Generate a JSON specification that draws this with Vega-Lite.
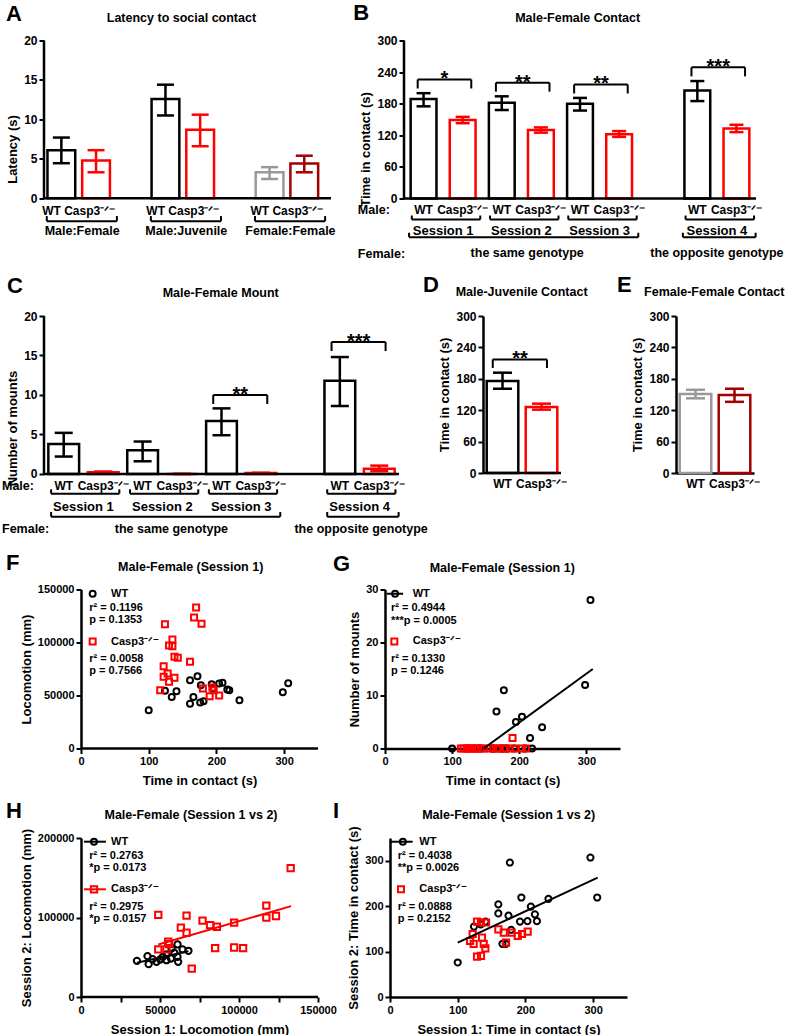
{
"$schema": "https://vega.github.io/schema/vega-lite/v6.json",
"padding": {"left": 1, "top": 1.5, "right": 0, "bottom": 0},
"background": "white",
"config": {
 "font": "Liberation Sans",
 "view": {"stroke": null},
 "axis": {"grid": false, "labelFont": "Liberation Sans", "labelFontWeight": "bold", "labelFontSize": 11, "labelColor": "#000000", "titleFont": "Liberation Sans", "titleFontWeight": "bold", "titleFontSize": 13, "titleColor": "#000000", "domainColor": "#000000", "domainWidth": 2.5, "tickColor": "#000000", "tickWidth": 2, "tickSize": 5, "labelPadding": 2, "labelFlush": false, "labelOverlap": false, "titlePadding": 4},
 "text": {"font": "Liberation Sans", "fontWeight": "bold", "color": "#000000"},
 "rule": {"color": "#000000"}
},
"datasets": {
 "one": [{}],
 "A_bars": [
  {"pair":"Male:Female","bar":"MF WT","group":"WT male","mean":6.1,"lower":4.45,"upper":7.7},
  {"pair":"Male:Female","bar":"MF KO","group":"Casp3 male","mean":4.8,"lower":3.3,"upper":6.1},
  {"pair":"Male:Juvenile","bar":"MJ WT","group":"WT male","mean":12.6,"lower":10.5,"upper":14.4},
  {"pair":"Male:Juvenile","bar":"MJ KO","group":"Casp3 male","mean":8.7,"lower":6.6,"upper":10.6},
  {"pair":"Female:Female","bar":"FF WT","group":"WT female","mean":3.3,"lower":2.45,"upper":3.95},
  {"pair":"Female:Female","bar":"FF KO","group":"Casp3 female","mean":4.4,"lower":3.3,"upper":5.4}
 ],
 "A_pairs": [
  {"pair":"Male:Female","wt":"MF WT","ko":"MF KO"},
  {"pair":"Male:Juvenile","wt":"MJ WT","ko":"MJ KO"},
  {"pair":"Female:Female","wt":"FF WT","ko":"FF KO"}
 ],
 "B_bars": [
  {"session":"Session 1","bar":"S1 WT","genotype":"WT","group":"WT male","mean":189,"lower":175,"upper":200},
  {"session":"Session 1","bar":"S1 KO","genotype":"Casp3\u207b\u141f\u207b","group":"Casp3 male","mean":149,"lower":143,"upper":155},
  {"session":"Session 2","bar":"S2 WT","genotype":"WT","group":"WT male","mean":182,"lower":168,"upper":194},
  {"session":"Session 2","bar":"S2 KO","genotype":"Casp3\u207b\u141f\u207b","group":"Casp3 male","mean":130,"lower":125,"upper":135},
  {"session":"Session 3","bar":"S3 WT","genotype":"WT","group":"WT male","mean":180,"lower":167,"upper":191},
  {"session":"Session 3","bar":"S3 KO","genotype":"Casp3\u207b\u141f\u207b","group":"Casp3 male","mean":122,"lower":117,"upper":128},
  {"session":"Session 4","bar":"S4 WT","genotype":"WT","group":"WT male","mean":205,"lower":185,"upper":223},
  {"session":"Session 4","bar":"S4 KO","genotype":"Casp3\u207b\u141f\u207b","group":"Casp3 male","mean":133,"lower":126,"upper":140}
 ],
 "C_bars": [
  {"session":"Session 1","bar":"S1 WT","genotype":"WT","group":"WT male","mean":3.8,"lower":2.2,"upper":5.2},
  {"session":"Session 1","bar":"S1 KO","genotype":"Casp3\u207b\u141f\u207b","group":"Casp3 male","mean":0.2,"lower":0.1,"upper":0.3},
  {"session":"Session 2","bar":"S2 WT","genotype":"WT","group":"WT male","mean":3.0,"lower":1.6,"upper":4.1},
  {"session":"Session 2","bar":"S2 KO","genotype":"Casp3\u207b\u141f\u207b","group":"Casp3 male","mean":0,"lower":0,"upper":0},
  {"session":"Session 3","bar":"S3 WT","genotype":"WT","group":"WT male","mean":6.7,"lower":4.9,"upper":8.3},
  {"session":"Session 3","bar":"S3 KO","genotype":"Casp3\u207b\u141f\u207b","group":"Casp3 male","mean":0.1,"lower":0.05,"upper":0.15},
  {"session":"Session 4","bar":"S4 WT","genotype":"WT","group":"WT male","mean":11.8,"lower":8.6,"upper":14.8},
  {"session":"Session 4","bar":"S4 KO","genotype":"Casp3\u207b\u141f\u207b","group":"Casp3 male","mean":0.65,"lower":0.35,"upper":1.05}
 ],
 "sessions": [
  {"session":"Session 1","wt":"S1 WT","ko":"S1 KO"},
  {"session":"Session 2","wt":"S2 WT","ko":"S2 KO"},
  {"session":"Session 3","wt":"S3 WT","ko":"S3 KO"},
  {"session":"Session 4","wt":"S4 WT","ko":"S4 KO"}
 ],
 "spans": [
  {"span":"the same genotype","from":"S1 WT","to":"S3 KO"},
  {"span":"the opposite genotype","from":"S4 WT","to":"S4 KO"}
 ],
 "B_sig": [
  {"wt":"S1 WT","ko":"S1 KO","sig":"*","bracket":226},
  {"wt":"S2 WT","ko":"S2 KO","sig":"**","bracket":220},
  {"wt":"S3 WT","ko":"S3 KO","sig":"**","bracket":216.5},
  {"wt":"S4 WT","ko":"S4 KO","sig":"***","bracket":249}
 ],
 "C_sig": [
  {"wt":"S3 WT","ko":"S3 KO","sig":"**","bracket":10},
  {"wt":"S4 WT","ko":"S4 KO","sig":"***","bracket":16.7}
 ],
 "D_bars": [
  {"genotype":"WT","group":"WT male","mean":176,"lower":161,"upper":191.7},
  {"genotype":"Casp3\u207b\u141f\u207b","group":"Casp3 male","mean":126,"lower":121,"upper":132.5}
 ],
 "E_bars": [
  {"genotype":"WT","group":"WT female","mean":151,"lower":142.7,"upper":159},
  {"genotype":"Casp3\u207b\u141f\u207b","group":"Casp3 female","mean":149,"lower":136,"upper":161}
 ],
 "F_pts": [
  {"group":"WT male","contact":100,"locomotion":36000},{"group":"WT male","contact":124,"locomotion":54400},{"group":"WT male","contact":134,"locomotion":48700},{"group":"WT male","contact":141,"locomotion":54000},{"group":"WT male","contact":161,"locomotion":64500},{"group":"WT male","contact":161,"locomotion":42100},{"group":"WT male","contact":166,"locomotion":48700},{"group":"WT male","contact":172,"locomotion":68200},{"group":"WT male","contact":177,"locomotion":59700},{"group":"WT male","contact":176,"locomotion":43400},{"group":"WT male","contact":181,"locomotion":44600},{"group":"WT male","contact":193,"locomotion":60700},{"group":"WT male","contact":195,"locomotion":56600},{"group":"WT male","contact":204,"locomotion":61300},{"group":"WT male","contact":209,"locomotion":62000},{"group":"WT male","contact":216,"locomotion":55700},{"group":"WT male","contact":219,"locomotion":55000},{"group":"WT male","contact":234,"locomotion":45600},{"group":"WT male","contact":298,"locomotion":53100},{"group":"WT male","contact":306,"locomotion":61600},
  {"group":"Casp3 male","contact":170,"locomotion":133000},{"group":"Casp3 male","contact":167,"locomotion":123600},{"group":"Casp3 male","contact":178,"locomotion":117600},{"group":"Casp3 male","contact":124,"locomotion":117300},{"group":"Casp3 male","contact":135,"locomotion":102800},{"group":"Casp3 male","contact":130,"locomotion":97200},{"group":"Casp3 male","contact":135,"locomotion":96500},{"group":"Casp3 male","contact":138,"locomotion":86500},{"group":"Casp3 male","contact":143,"locomotion":85500},{"group":"Casp3 male","contact":161,"locomotion":81800},{"group":"Casp3 male","contact":122,"locomotion":77700},{"group":"Casp3 male","contact":128,"locomotion":70800},{"group":"Casp3 male","contact":122,"locomotion":67600},{"group":"Casp3 male","contact":138,"locomotion":66700},{"group":"Casp3 male","contact":130,"locomotion":62900},{"group":"Casp3 male","contact":117,"locomotion":55000},{"group":"Casp3 male","contact":180,"locomotion":56600},{"group":"Casp3 male","contact":194,"locomotion":57500},{"group":"Casp3 male","contact":190,"locomotion":49400},{"group":"Casp3 male","contact":204,"locomotion":50000},{"group":"Casp3 male","contact":196,"locomotion":55000}
 ],
 "G_pts": [
  {"group":"WT male","contact":100,"mounts":0},{"group":"WT male","contact":124,"mounts":0},{"group":"WT male","contact":134,"mounts":0},{"group":"WT male","contact":141,"mounts":0},{"group":"WT male","contact":161,"mounts":0},{"group":"WT male","contact":161,"mounts":0},{"group":"WT male","contact":166,"mounts":7},{"group":"WT male","contact":172,"mounts":0},{"group":"WT male","contact":177,"mounts":11},{"group":"WT male","contact":176,"mounts":0},{"group":"WT male","contact":181,"mounts":0},{"group":"WT male","contact":193,"mounts":0},{"group":"WT male","contact":195,"mounts":5},{"group":"WT male","contact":204,"mounts":6},{"group":"WT male","contact":209,"mounts":0},{"group":"WT male","contact":216,"mounts":2},{"group":"WT male","contact":219,"mounts":0},{"group":"WT male","contact":234,"mounts":4},{"group":"WT male","contact":298,"mounts":12},{"group":"WT male","contact":306,"mounts":28},
  {"group":"Casp3 male","contact":170,"mounts":0},{"group":"Casp3 male","contact":167,"mounts":0},{"group":"Casp3 male","contact":178,"mounts":0},{"group":"Casp3 male","contact":124,"mounts":0},{"group":"Casp3 male","contact":135,"mounts":0},{"group":"Casp3 male","contact":130,"mounts":0},{"group":"Casp3 male","contact":138,"mounts":0},{"group":"Casp3 male","contact":143,"mounts":0},{"group":"Casp3 male","contact":161,"mounts":0},{"group":"Casp3 male","contact":122,"mounts":0},{"group":"Casp3 male","contact":128,"mounts":0},{"group":"Casp3 male","contact":117,"mounts":0},{"group":"Casp3 male","contact":113,"mounts":0},{"group":"Casp3 male","contact":147,"mounts":0},{"group":"Casp3 male","contact":156,"mounts":0},{"group":"Casp3 male","contact":180,"mounts":0},{"group":"Casp3 male","contact":194,"mounts":0},{"group":"Casp3 male","contact":190,"mounts":2},{"group":"Casp3 male","contact":204,"mounts":0},{"group":"Casp3 male","contact":210,"mounts":0},{"group":"Casp3 male","contact":186,"mounts":0}
 ],
 "G_fit": [
  {"group":"WT male","contact":147,"mounts":0},{"group":"WT male","contact":309.5,"mounts":15}
 ],
 "H_pts": [
  {"group":"WT male","loco1":35400,"loco2":45500},{"group":"WT male","loco1":42800,"loco2":41300},{"group":"WT male","loco1":42100,"loco2":51400},{"group":"WT male","loco1":45300,"loco2":47600},{"group":"WT male","loco1":47800,"loco2":44200},{"group":"WT male","loco1":50100,"loco2":47200},{"group":"WT male","loco1":51800,"loco2":50500},{"group":"WT male","loco1":54100,"loco2":46300},{"group":"WT male","loco1":54100,"loco2":53500},{"group":"WT male","loco1":56900,"loco2":48400},{"group":"WT male","loco1":57300,"loco2":61000},{"group":"WT male","loco1":59000,"loco2":55600},{"group":"WT male","loco1":61100,"loco2":50500},{"group":"WT male","loco1":61100,"loco2":66100},{"group":"WT male","loco1":61500,"loco2":44200},{"group":"WT male","loco1":64300,"loco2":59800},{"group":"WT male","loco1":68000,"loco2":58100},
  {"group":"Casp3 male","loco1":132700,"loco2":162100},{"group":"Casp3 male","loco1":117300,"loco2":114900},{"group":"Casp3 male","loco1":117300,"loco2":99800},{"group":"Casp3 male","loco1":123400,"loco2":101900},{"group":"Casp3 male","loco1":96900,"loco2":93500},{"group":"Casp3 male","loco1":76900,"loco2":96000},{"group":"Casp3 male","loco1":81700,"loco2":90500},{"group":"Casp3 male","loco1":86000,"loco2":88400},{"group":"Casp3 male","loco1":66800,"loco2":102300},{"group":"Casp3 male","loco1":48900,"loco2":103200},{"group":"Casp3 male","loco1":63200,"loco2":87200},{"group":"Casp3 male","loco1":66800,"loco2":80800},{"group":"Casp3 male","loco1":84900,"loco2":61500},{"group":"Casp3 male","loco1":96900,"loco2":62300},{"group":"Casp3 male","loco1":102600,"loco2":61500},{"group":"Casp3 male","loco1":70100,"loco2":35800},{"group":"Casp3 male","loco1":55200,"loco2":69500},{"group":"Casp3 male","loco1":48900,"loco2":59800},{"group":"Casp3 male","loco1":54100,"loco2":59800},{"group":"Casp3 male","loco1":55800,"loco2":66500}
 ],
 "H_fit": [
  {"group":"WT male","loco1":35400,"loco2":43000},{"group":"WT male","loco1":68000,"loco2":57700},
  {"group":"Casp3 male","loco1":48900,"loco2":66000},{"group":"Casp3 male","loco1":133000,"loco2":114300}
 ],
 "I_pts": [
  {"group":"WT male","contact1":100,"contact2":76},{"group":"WT male","contact1":124,"contact2":155},{"group":"WT male","contact1":134,"contact2":160},{"group":"WT male","contact1":141,"contact2":166},{"group":"WT male","contact1":160,"contact2":204},{"group":"WT male","contact1":160,"contact2":184},{"group":"WT male","contact1":166,"contact2":117},{"group":"WT male","contact1":171,"contact2":117},{"group":"WT male","contact1":177,"contact2":296},{"group":"WT male","contact1":175,"contact2":179},{"group":"WT male","contact1":179,"contact2":148},{"group":"WT male","contact1":192,"contact2":166},{"group":"WT male","contact1":194,"contact2":219},{"group":"WT male","contact1":203,"contact2":167},{"group":"WT male","contact1":208,"contact2":199},{"group":"WT male","contact1":214,"contact2":182},{"group":"WT male","contact1":217,"contact2":167},{"group":"WT male","contact1":234,"contact2":216},{"group":"WT male","contact1":296,"contact2":307},{"group":"WT male","contact1":306,"contact2":219},
  {"group":"Casp3 male","contact1":128.5,"contact2":166},{"group":"Casp3 male","contact1":141.8,"contact2":164},{"group":"Casp3 male","contact1":134.4,"contact2":164},{"group":"Casp3 male","contact1":160,"contact2":149},{"group":"Casp3 male","contact1":168,"contact2":141.6},{"group":"Casp3 male","contact1":179.7,"contact2":141.6},{"group":"Casp3 male","contact1":188.6,"contact2":134.3},{"group":"Casp3 male","contact1":195,"contact2":138.7},{"group":"Casp3 male","contact1":203.3,"contact2":143.8},{"group":"Casp3 male","contact1":122.1,"contact2":138.7},{"group":"Casp3 male","contact1":118.2,"contact2":123.3},{"group":"Casp3 male","contact1":123.6,"contact2":116.8},{"group":"Casp3 male","contact1":135.9,"contact2":130.7},{"group":"Casp3 male","contact1":138.4,"contact2":116.8},{"group":"Casp3 male","contact1":140.8,"contact2":107.2},{"group":"Casp3 male","contact1":128.5,"contact2":88.9},{"group":"Casp3 male","contact1":134.4,"contact2":90.4},{"group":"Casp3 male","contact1":171.4,"contact2":119.7}
 ],
 "I_fit": [
  {"group":"WT male","contact1":100,"contact2":119.6},{"group":"WT male","contact1":306.7,"contact2":262.7}
 ]
},
"spacing": 11.5,
"vconcat": [
 {"bounds": "flush", "spacing": 73, "hconcat": [
  {"width": 287, "height": 217, "layer": [
   {"data":{"name":"A_bars"},"mark":{"type":"bar","filled":false,"strokeWidth":2.5,"width":{"band":0.8}},"encoding":{"x":{"field":"bar","type":"nominal","axis":null,"scale":{"type":"band","domain":["MF WT","MF KO","gap1","MJ WT","MJ KO","gap2","FF WT","FF KO"],"paddingInner":0,"paddingOuter":0.135,"align":0}},"y":{"field":"mean","type":"quantitative","stack":null,"scale":{"domain":[-7.5,20],"nice":false},"axis":{"values":[0,5,10,15,20],"domain":false,"labelOverlap":false,"title":"Latency (s)","labelFontSize":12}},"y2":{"datum":0},"color":{"field":"group","type":"nominal","legend":null,"scale":{"domain":["WT male","Casp3 male","WT female","Casp3 female"],"range":["#000000","#ff0000","#999999","#a30000"]}}}},
   {"data":{"name":"A_bars"},"mark":{"type":"rule","strokeWidth":2.5},"encoding":{"x":{"field":"bar","type":"nominal"},"y":{"field":"lower","type":"quantitative"},"y2":{"field":"upper"},"color":{"field":"group","type":"nominal","legend":null}}},
   {"data":{"name":"A_bars"},"mark":{"type":"tick","size":17,"thickness":2.5,"opacity":1},"encoding":{"x":{"field":"bar","type":"nominal"},"y":{"field":"lower","type":"quantitative"},"color":{"field":"group","type":"nominal","legend":null}}},
   {"data":{"name":"A_bars"},"mark":{"type":"tick","size":17,"thickness":2.5,"opacity":1},"encoding":{"x":{"field":"bar","type":"nominal"},"y":{"field":"upper","type":"quantitative"},"color":{"field":"group","type":"nominal","legend":null}}},
   {"data":{"name":"one"},"mark":{"type":"rule","strokeWidth":2.5,"color":"#000000"},"encoding":{"y":{"datum":0}}},
   {"data":{"name":"one"},"mark":{"type":"rule","strokeWidth":2.5,"color":"#000000"},"encoding":{"x":{"datum":"MF WT","bandPosition":0},"y":{"datum":0},"y2":{"datum":20}}},
   {"data":{"name":"A_pairs"},"mark":{"type":"text","text":"WT Casp3\u207b\u141f\u207b","fontSize":12,"baseline":"middle"},"encoding":{"x":{"field":"wt","type":"nominal","bandPosition":1},"y":{"datum":-1.55}}},
   {"data":{"name":"A_pairs"},"mark":{"type":"rule","strokeWidth":2,"color":"#000000"},"encoding":{"x":{"field":"wt","type":"nominal","bandPosition":0.08},"x2":{"field":"ko","bandPosition":1.1},"y":{"datum":-2.9}}},
   {"data":{"name":"A_pairs"},"mark":{"type":"rule","strokeWidth":2,"color":"#000000"},"encoding":{"x":{"field":"wt","type":"nominal","bandPosition":0.08},"y":{"datum":-2.9},"y2":{"datum":-2.25}}},
   {"data":{"name":"A_pairs"},"mark":{"type":"rule","strokeWidth":2,"color":"#000000"},"encoding":{"x":{"field":"ko","type":"nominal","bandPosition":1.1},"y":{"datum":-2.9},"y2":{"datum":-2.25}}},
   {"data":{"name":"A_pairs"},"mark":{"type":"text","fontSize":12.5,"baseline":"middle"},"encoding":{"text":{"field":"pair"},"x":{"field":"wt","type":"nominal","bandPosition":1.1},"y":{"datum":-4.15}}},
   {"data":{"name":"one"},"mark":{"type":"text","text":"Latency to social contact","fontSize":12.5,"baseline":"middle"},"encoding":{"x":{"datum":"MJ WT","bandPosition":0.96},"y":{"datum":22.87}}},
   {"data":{"name":"one"},"mark":{"type":"text","text":"A","fontSize":22,"align":"left","baseline":"alphabetic"},"encoding":{"x":{"datum":"MF WT","bandPosition":-1.095},"y":{"datum":22.53}}}
  ]},
  {"width": 352, "height": 217, "layer": [
   {"data":{"name":"B_bars"},"mark":{"type":"bar","filled":false,"strokeWidth":2.5,"width":{"band":0.66}},"encoding":{"x":{"field":"bar","type":"nominal","axis":null,"scale":{"type":"band","domain":["S1 WT","S1 KO","S2 WT","S2 KO","S3 WT","S3 KO","gap","S4 WT","S4 KO"],"paddingInner":0,"paddingOuter":0}},"y":{"field":"mean","type":"quantitative","stack":null,"scale":{"domain":[-112,300],"nice":false},"axis":{"values":[0,60,120,180,240,300],"domain":false,"labelOverlap":false,"title":"Time in contact (s)","labelFontSize":12}},"y2":{"datum":0},"color":{"field":"group","type":"nominal","legend":null,"scale":{"domain":["WT male","Casp3 male","WT female","Casp3 female"],"range":["#000000","#ff0000","#999999","#a30000"]}}}},
   {"data":{"name":"B_bars"},"mark":{"type":"rule","strokeWidth":2.5},"encoding":{"x":{"field":"bar","type":"nominal"},"y":{"field":"lower","type":"quantitative"},"y2":{"field":"upper"},"color":{"field":"group","type":"nominal","legend":null}}},
   {"data":{"name":"B_bars"},"mark":{"type":"tick","size":14,"thickness":2.5,"opacity":1},"encoding":{"x":{"field":"bar","type":"nominal"},"y":{"field":"lower","type":"quantitative"},"color":{"field":"group","type":"nominal","legend":null}}},
   {"data":{"name":"B_bars"},"mark":{"type":"tick","size":14,"thickness":2.5,"opacity":1},"encoding":{"x":{"field":"bar","type":"nominal"},"y":{"field":"upper","type":"quantitative"},"color":{"field":"group","type":"nominal","legend":null}}},
   {"data":{"name":"one"},"mark":{"type":"rule","strokeWidth":2.5,"color":"#000000"},"encoding":{"y":{"datum":0}}},
   {"data":{"name":"one"},"mark":{"type":"rule","strokeWidth":2.5,"color":"#000000"},"encoding":{"x":{"datum":"S1 WT","bandPosition":0},"y":{"datum":0},"y2":{"datum":300}}},
   {"data":{"name":"B_bars"},"mark":{"type":"text","fontSize":12,"baseline":"middle"},"encoding":{"text":{"field":"genotype"},"x":{"field":"bar","type":"nominal"},"y":{"datum":-22.5}}},
   {"data":{"name":"sessions"},"mark":{"type":"rule","strokeWidth":2,"color":"#000000"},"encoding":{"x":{"field":"wt","type":"nominal","bandPosition":0.2},"x2":{"field":"ko","bandPosition":0.95},"y":{"datum":-39.9}}},
   {"data":{"name":"sessions"},"mark":{"type":"rule","strokeWidth":2,"color":"#000000"},"encoding":{"x":{"field":"wt","type":"nominal","bandPosition":0.2},"y":{"datum":-39.9},"y2":{"datum":-32.3}}},
   {"data":{"name":"sessions"},"mark":{"type":"rule","strokeWidth":2,"color":"#000000"},"encoding":{"x":{"field":"ko","type":"nominal","bandPosition":0.95},"y":{"datum":-39.9},"y2":{"datum":-32.3}}},
   {"data":{"name":"sessions"},"mark":{"type":"text","fontSize":13,"baseline":"middle"},"encoding":{"text":{"field":"session"},"x":{"field":"wt","type":"nominal","bandPosition":1},"y":{"datum":-60.8}}},
   {"data":{"name":"spans"},"mark":{"type":"rule","strokeWidth":2,"color":"#000000"},"encoding":{"x":{"field":"from","type":"nominal","bandPosition":0.13},"x2":{"field":"to","bandPosition":0.99},"y":{"datum":-73.5}}},
   {"data":{"name":"spans"},"mark":{"type":"rule","strokeWidth":2,"color":"#000000"},"encoding":{"x":{"field":"from","type":"nominal","bandPosition":0.13},"y":{"datum":-73.5},"y2":{"datum":-65}}},
   {"data":{"name":"spans"},"mark":{"type":"rule","strokeWidth":2,"color":"#000000"},"encoding":{"x":{"field":"to","type":"nominal","bandPosition":0.99},"y":{"datum":-73.5},"y2":{"datum":-65}}},
   {"data":{"name":"one"},"mark":{"type":"text","text":"the same genotype","fontSize":12.5,"baseline":"middle"},"encoding":{"x":{"datum":"S2 KO","bandPosition":0.15},"y":{"datum":-104.4}}},
   {"data":{"name":"one"},"mark":{"type":"text","text":"the opposite genotype","fontSize":12.5,"baseline":"middle"},"encoding":{"x":{"datum":"S4 KO","bandPosition":0},"y":{"datum":-104.4}}},
   {"data":{"name":"one"},"mark":{"type":"text","text":"Male:","fontSize":12.5,"align":"left","baseline":"middle"},"encoding":{"x":{"datum":"S1 WT","bandPosition":-1.18},"y":{"datum":-20.9}}},
   {"data":{"name":"one"},"mark":{"type":"text","text":"Female:","fontSize":12.5,"align":"left","baseline":"middle"},"encoding":{"x":{"datum":"S1 WT","bandPosition":-1.18},"y":{"datum":-106.3}}},
   {"data":{"name":"B_sig"},"mark":{"type":"rule","strokeWidth":2,"color":"#000000"},"encoding":{"x":{"field":"wt","type":"nominal","bandPosition":0.35},"x2":{"field":"ko","bandPosition":0.72},"y":{"field":"bracket","type":"quantitative"}}},
   {"data":{"name":"B_sig"},"mark":{"type":"rule","strokeWidth":2,"color":"#000000","y2Offset":9},"encoding":{"x":{"field":"wt","type":"nominal","bandPosition":0.35},"y":{"field":"bracket","type":"quantitative"},"y2":{"field":"bracket"}}},
   {"data":{"name":"B_sig"},"mark":{"type":"rule","strokeWidth":2,"color":"#000000","y2Offset":9},"encoding":{"x":{"field":"ko","type":"nominal","bandPosition":0.72},"y":{"field":"bracket","type":"quantitative"},"y2":{"field":"bracket"}}},
   {"data":{"name":"B_sig"},"mark":{"type":"text","fontSize":20,"baseline":"middle"},"encoding":{"text":{"field":"sig"},"x":{"field":"wt","type":"nominal","bandPosition":1.035},"y":{"field":"bracket","type":"quantitative"}}},
   {"data":{"name":"one"},"mark":{"type":"text","text":"Male-Female Contact","fontSize":12.5,"baseline":"middle"},"encoding":{"x":{"datum":"S3 WT","bandPosition":0.44},"y":{"datum":343}}},
   {"data":{"name":"one"},"mark":{"type":"text","text":"B","fontSize":22,"align":"left","baseline":"alphabetic"},"encoding":{"x":{"datum":"S1 WT","bandPosition":-1.3},"y":{"datum":338}}}
  ]}
 ]},
 {"bounds": "flush", "spacing": 84, "hconcat": [
  {"width": 355, "height": 224, "layer": [
   {"data":{"name":"C_bars"},"mark":{"type":"bar","filled":false,"strokeWidth":2.5,"width":{"band":0.78}},"encoding":{"x":{"field":"bar","type":"nominal","axis":null,"scale":{"type":"band","domain":["S1 WT","S1 KO","S2 WT","S2 KO","S3 WT","S3 KO","gap","S4 WT","S4 KO"],"paddingInner":0,"paddingOuter":0}},"y":{"field":"mean","type":"quantitative","stack":null,"scale":{"domain":[-8.37,20],"nice":false},"axis":{"values":[0,5,10,15,20],"domain":false,"labelOverlap":false,"title":"Number of mounts","labelFontSize":12}},"y2":{"datum":0},"color":{"field":"group","type":"nominal","legend":null,"scale":{"domain":["WT male","Casp3 male","WT female","Casp3 female"],"range":["#000000","#ff0000","#999999","#a30000"]}}}},
   {"data":{"name":"C_bars"},"mark":{"type":"rule","strokeWidth":2.5},"encoding":{"x":{"field":"bar","type":"nominal"},"y":{"field":"lower","type":"quantitative"},"y2":{"field":"upper"},"color":{"field":"group","type":"nominal","legend":null}}},
   {"data":{"name":"C_bars"},"mark":{"type":"tick","size":18,"thickness":2.5,"opacity":1},"encoding":{"x":{"field":"bar","type":"nominal"},"y":{"field":"lower","type":"quantitative"},"color":{"field":"group","type":"nominal","legend":null}}},
   {"data":{"name":"C_bars"},"mark":{"type":"tick","size":18,"thickness":2.5,"opacity":1},"encoding":{"x":{"field":"bar","type":"nominal"},"y":{"field":"upper","type":"quantitative"},"color":{"field":"group","type":"nominal","legend":null}}},
   {"data":{"name":"one"},"mark":{"type":"rule","strokeWidth":2.5,"color":"#000000"},"encoding":{"y":{"datum":0}}},
   {"data":{"name":"one"},"mark":{"type":"rule","strokeWidth":2.5,"color":"#000000"},"encoding":{"x":{"datum":"S1 WT","bandPosition":0},"y":{"datum":0},"y2":{"datum":20}}},
   {"data":{"name":"C_bars"},"mark":{"type":"text","fontSize":12,"baseline":"middle"},"encoding":{"text":{"field":"genotype"},"x":{"field":"bar","type":"nominal"},"y":{"datum":-1.53}}},
   {"data":{"name":"sessions"},"mark":{"type":"rule","strokeWidth":2,"color":"#000000"},"encoding":{"x":{"field":"wt","type":"nominal","bandPosition":0.18},"x2":{"field":"ko","bandPosition":0.91},"y":{"datum":-2.5}}},
   {"data":{"name":"sessions"},"mark":{"type":"rule","strokeWidth":2,"color":"#000000"},"encoding":{"x":{"field":"wt","type":"nominal","bandPosition":0.18},"y":{"datum":-2.5},"y2":{"datum":-1.95}}},
   {"data":{"name":"sessions"},"mark":{"type":"rule","strokeWidth":2,"color":"#000000"},"encoding":{"x":{"field":"ko","type":"nominal","bandPosition":0.91},"y":{"datum":-2.5},"y2":{"datum":-1.95}}},
   {"data":{"name":"sessions"},"mark":{"type":"text","fontSize":13,"baseline":"middle"},"encoding":{"text":{"field":"session"},"x":{"field":"wt","type":"nominal","bandPosition":1},"y":{"datum":-4.15}}},
   {"data":{"name":"spans"},"mark":{"type":"rule","strokeWidth":2,"color":"#000000"},"encoding":{"x":{"field":"from","type":"nominal","bandPosition":0.18},"x2":{"field":"to","bandPosition":0.99},"y":{"datum":-5.42}}},
   {"data":{"name":"spans"},"mark":{"type":"rule","strokeWidth":2,"color":"#000000"},"encoding":{"x":{"field":"from","type":"nominal","bandPosition":0.18},"y":{"datum":-5.42},"y2":{"datum":-4.83}}},
   {"data":{"name":"spans"},"mark":{"type":"rule","strokeWidth":2,"color":"#000000"},"encoding":{"x":{"field":"to","type":"nominal","bandPosition":0.99},"y":{"datum":-5.42},"y2":{"datum":-4.83}}},
   {"data":{"name":"one"},"mark":{"type":"text","text":"the same genotype","fontSize":12.5,"baseline":"middle"},"encoding":{"x":{"datum":"S2 KO","bandPosition":0.23},"y":{"datum":-6.94}}},
   {"data":{"name":"one"},"mark":{"type":"text","text":"the opposite genotype","fontSize":12.5,"baseline":"middle"},"encoding":{"x":{"datum":"S4 KO","bandPosition":0.04},"y":{"datum":-6.94}}},
   {"data":{"name":"one"},"mark":{"type":"text","text":"Male:","fontSize":12.5,"align":"left","baseline":"middle"},"encoding":{"x":{"datum":"S1 WT","bandPosition":-1.065},"y":{"datum":-1.53}}},
   {"data":{"name":"one"},"mark":{"type":"text","text":"Female:","fontSize":12.5,"align":"left","baseline":"middle"},"encoding":{"x":{"datum":"S1 WT","bandPosition":-1.065},"y":{"datum":-6.94}}},
   {"data":{"name":"C_sig"},"mark":{"type":"rule","strokeWidth":2,"color":"#000000"},"encoding":{"x":{"field":"wt","type":"nominal","bandPosition":0.29},"x2":{"field":"ko","bandPosition":0.66},"y":{"field":"bracket","type":"quantitative"}}},
   {"data":{"name":"C_sig"},"mark":{"type":"rule","strokeWidth":2,"color":"#000000","y2Offset":9},"encoding":{"x":{"field":"wt","type":"nominal","bandPosition":0.29},"y":{"field":"bracket","type":"quantitative"},"y2":{"field":"bracket"}}},
   {"data":{"name":"C_sig"},"mark":{"type":"rule","strokeWidth":2,"color":"#000000","y2Offset":9},"encoding":{"x":{"field":"ko","type":"nominal","bandPosition":0.66},"y":{"field":"bracket","type":"quantitative"},"y2":{"field":"bracket"}}},
   {"data":{"name":"C_sig"},"mark":{"type":"text","fontSize":20,"baseline":"middle"},"encoding":{"text":{"field":"sig"},"x":{"field":"wt","type":"nominal","bandPosition":0.975},"y":{"field":"bracket","type":"quantitative"}}},
   {"data":{"name":"one"},"mark":{"type":"text","text":"Male-Female Mount","fontSize":12.5,"baseline":"middle"},"encoding":{"x":{"datum":"S3 WT","bandPosition":0.48},"y":{"datum":22.87}}},
   {"data":{"name":"one"},"mark":{"type":"text","text":"C","fontSize":22,"align":"left","baseline":"alphabetic"},"encoding":{"x":{"datum":"S1 WT","bandPosition":-0.938},"y":{"datum":22.9}}}
  ]},
  {"width": 109, "height": 157, "layer": [
   {"data":{"name":"D_bars"},"mark":{"type":"bar","filled":false,"strokeWidth":2.5,"width":{"band":0.81}},"encoding":{"x":{"field":"genotype","type":"nominal","scale":{"type":"band","domain":["WT","Casp3\u207b\u141f\u207b"],"paddingInner":0,"paddingOuter":0.3974,"align":0},"axis":{"title":null,"ticks":false,"domain":false,"labelAngle":0,"labelFontSize":12,"labelPadding":5}},"y":{"field":"mean","type":"quantitative","stack":null,"scale":{"domain":[0,300],"nice":false},"axis":{"values":[0,60,120,180,240,300],"labelOverlap":false,"tickCount":6,"title":"Time in contact (s)","labelFontSize":12}},"y2":{"datum":0},"color":{"field":"group","type":"nominal","legend":null,"scale":{"domain":["WT male","Casp3 male","WT female","Casp3 female"],"range":["#000000","#ff0000","#999999","#a30000"]}}}},
   {"data":{"name":"D_bars"},"mark":{"type":"rule","strokeWidth":2.5},"encoding":{"x":{"field":"genotype","type":"nominal"},"y":{"field":"lower","type":"quantitative"},"y2":{"field":"upper"},"color":{"field":"group","type":"nominal","legend":null}}},
   {"data":{"name":"D_bars"},"mark":{"type":"tick","size":19,"thickness":2.5,"opacity":1},"encoding":{"x":{"field":"genotype","type":"nominal"},"y":{"field":"lower","type":"quantitative"},"color":{"field":"group","type":"nominal","legend":null}}},
   {"data":{"name":"D_bars"},"mark":{"type":"tick","size":19,"thickness":2.5,"opacity":1},"encoding":{"x":{"field":"genotype","type":"nominal"},"y":{"field":"upper","type":"quantitative"},"color":{"field":"group","type":"nominal","legend":null}}},
   {"data":{"name":"one"},"mark":{"type":"rule","strokeWidth":2.5,"color":"#000000"},"encoding":{"x":{"datum":"WT","bandPosition":0},"x2":{"datum":"Casp3\u207b\u141f\u207b","bandPosition":1},"y":{"datum":0}}},
   {"data":{"name":"one"},"mark":{"type":"rule","strokeWidth":2,"color":"#000000"},"encoding":{"x":{"datum":"WT","bandPosition":0.25},"x2":{"datum":"Casp3\u207b\u141f\u207b","bandPosition":0.64},"y":{"datum":217}}},
   {"data":{"name":"one"},"mark":{"type":"rule","strokeWidth":2,"color":"#000000"},"encoding":{"x":{"datum":"WT","bandPosition":0.25},"y":{"datum":217},"y2":{"datum":200.6}}},
   {"data":{"name":"one"},"mark":{"type":"rule","strokeWidth":2,"color":"#000000"},"encoding":{"x":{"datum":"Casp3\u207b\u141f\u207b","bandPosition":0.64},"y":{"datum":217},"y2":{"datum":200.6}}},
   {"data":{"name":"one"},"mark":{"type":"text","text":"**","fontSize":20,"baseline":"middle"},"encoding":{"x":{"datum":"WT","bandPosition":0.95},"y":{"datum":217}}},
   {"data":{"name":"one"},"mark":{"type":"text","text":"Male-Juvenile Contact","fontSize":12.5,"baseline":"middle"},"encoding":{"x":{"datum":"WT","bandPosition":0.99},"y":{"datum":345.9}}},
   {"data":{"name":"one"},"mark":{"type":"text","text":"D","fontSize":22,"align":"left","baseline":"alphabetic"},"encoding":{"x":{"datum":"WT","bandPosition":-1.54},"y":{"datum":345.9}}}
  ]},
  {"width": 78, "height": 157, "layer": [
   {"data":{"name":"E_bars"},"mark":{"type":"bar","filled":false,"strokeWidth":2.5,"width":{"band":0.81}},"encoding":{"x":{"field":"genotype","type":"nominal","scale":{"type":"band","domain":["WT","Casp3\u207b\u141f\u207b"],"paddingInner":0,"paddingOuter":0},"axis":{"title":null,"ticks":false,"labelAngle":0,"labelFontSize":12,"labelPadding":5}},"y":{"field":"mean","type":"quantitative","stack":null,"scale":{"domain":[0,300],"nice":false},"axis":{"values":[0,60,120,180,240,300],"labelOverlap":false,"tickCount":6,"title":"Time in contact (s)","labelFontSize":12}},"y2":{"datum":0},"color":{"field":"group","type":"nominal","legend":null,"scale":{"domain":["WT male","Casp3 male","WT female","Casp3 female"],"range":["#000000","#ff0000","#999999","#a30000"]}}}},
   {"data":{"name":"E_bars"},"mark":{"type":"rule","strokeWidth":2.5},"encoding":{"x":{"field":"genotype","type":"nominal"},"y":{"field":"lower","type":"quantitative"},"y2":{"field":"upper"},"color":{"field":"group","type":"nominal","legend":null}}},
   {"data":{"name":"E_bars"},"mark":{"type":"tick","size":19,"thickness":2.5,"opacity":1},"encoding":{"x":{"field":"genotype","type":"nominal"},"y":{"field":"lower","type":"quantitative"},"color":{"field":"group","type":"nominal","legend":null}}},
   {"data":{"name":"E_bars"},"mark":{"type":"tick","size":19,"thickness":2.5,"opacity":1},"encoding":{"x":{"field":"genotype","type":"nominal"},"y":{"field":"upper","type":"quantitative"},"color":{"field":"group","type":"nominal","legend":null}}},
   {"data":{"name":"one"},"mark":{"type":"text","text":"Female-Female Contact","fontSize":12.5,"baseline":"middle"},"encoding":{"x":{"datum":"WT","bandPosition":0.98},"y":{"datum":345.9}}},
   {"data":{"name":"one"},"mark":{"type":"text","text":"E","fontSize":22,"align":"left","baseline":"alphabetic"},"encoding":{"x":{"datum":"WT","bandPosition":-1.51},"y":{"datum":345.9}}}
  ]}
 ]},
 {"bounds": "flush", "spacing": 67, "hconcat": [
  {"width": 274, "height": 159, "layer": [
   {"data":{"name":"F_pts"},"mark":{"type":"point","filled":false,"strokeWidth":2,"size":36,"opacity":1},"encoding":{"x":{"field":"contact","type":"quantitative","scale":{"domain":[-54.65,350],"nice":false},"axis":{"values":[0,50,100,150,200,250,300,350],"domain":false,"labelExpr":"datum.value % 100 === 0 ? datum.label : ''","title":"Time in contact (s)","titlePadding":8,"titleX":155.5}},"y":{"field":"locomotion","type":"quantitative","scale":{"domain":[0,150000],"nice":false},"axis":{"offset":-37,"values":[0,25000,50000,75000,100000,125000,150000],"format":"d","labelExpr":"datum.value % 50000 === 0 ? datum.label : ''","title":"Locomotion (mm)"}},"shape":{"field":"group","type":"nominal","legend":null,"scale":{"domain":["WT male","Casp3 male"],"range":["circle","square"]}},"color":{"field":"group","type":"nominal","legend":null,"scale":{"domain":["WT male","Casp3 male","WT female","Casp3 female"],"range":["#000000","#ff0000","#999999","#a30000"]}}}},
   {"data":{"name":"one"},"mark":{"type":"rule","strokeWidth":2.5,"color":"#000000"},"encoding":{"x":{"datum":0},"x2":{"datum":350},"y":{"datum":0}}},
   {"data":{"name":"one"},"mark":{"type":"point","shape":"circle","filled":false,"strokeWidth":2,"size":36,"opacity":1,"color":"#000000"},"encoding":{"x":{"datum":17.2},"y":{"datum":145950}}},
   {"data":{"name":"one"},"mark":{"type":"text","text":"WT","fontSize":11,"align":"left","baseline":"middle"},"encoding":{"x":{"datum":44.3},"y":{"datum":145950}}},
   {"data":{"name":"one"},"mark":{"type":"text","text":["r\u00b2 = 0.1196","p = 0.1353"],"fontSize":11,"align":"left","baseline":"middle","lineHeight":12.3},"encoding":{"x":{"datum":12.3},"y":{"datum":132360}}},
   {"data":{"name":"one"},"mark":{"type":"point","shape":"square","filled":false,"strokeWidth":2,"size":36,"opacity":1,"color":"#ff0000"},"encoding":{"x":{"datum":17.2},"y":{"datum":100900}}},
   {"data":{"name":"one"},"mark":{"type":"text","text":"Casp3\u207b\u141f\u207b","fontSize":11,"align":"left","baseline":"middle"},"encoding":{"x":{"datum":44.3},"y":{"datum":100900}}},
   {"data":{"name":"one"},"mark":{"type":"text","text":["r\u00b2 = 0.0058","p = 0.7566"],"fontSize":11,"align":"left","baseline":"middle","lineHeight":12.3},"encoding":{"x":{"datum":12.3},"y":{"datum":84620}}},
   {"data":{"name":"one"},"mark":{"type":"text","text":"Male-Female (Session 1)","fontSize":12.5,"baseline":"middle"},"encoding":{"x":{"datum":162},"y":{"datum":170755}}},
   {"data":{"name":"one"},"mark":{"type":"text","text":"F","fontSize":22,"align":"left","baseline":"alphabetic"},"encoding":{"x":{"datum":-110.8},"y":{"datum":167925}}}
  ]},
  {"width": 235, "height": 159, "layer": [
   {"data":{"name":"G_pts"},"mark":{"type":"point","filled":false,"strokeWidth":2,"size":36,"opacity":1},"encoding":{"x":{"field":"contact","type":"quantitative","scale":{"domain":[0,350],"nice":false},"axis":{"values":[0,50,100,150,200,250,300,350],"labelExpr":"datum.value % 100 === 0 ? datum.label : ''","title":"Time in contact (s)","titlePadding":8}},"y":{"field":"mounts","type":"quantitative","scale":{"domain":[0,30],"nice":false},"axis":{"values":[0,5,10,15,20,25,30],"labelExpr":"datum.value % 10 === 0 ? datum.label : ''","title":"Number of mounts"}},"shape":{"field":"group","type":"nominal","legend":null,"scale":{"domain":["WT male","Casp3 male"],"range":["circle","square"]}},"color":{"field":"group","type":"nominal","legend":null,"scale":{"domain":["WT male","Casp3 male","WT female","Casp3 female"],"range":["#000000","#ff0000","#999999","#a30000"]}}}},
   {"data":{"name":"G_fit"},"mark":{"type":"line","strokeWidth":2},"encoding":{"x":{"field":"contact","type":"quantitative"},"y":{"field":"mounts","type":"quantitative"},"color":{"field":"group","type":"nominal","legend":null}}},
   {"data":{"name":"one"},"mark":{"type":"rule","strokeWidth":2,"color":"#000000"},"encoding":{"x":{"datum":3},"x2":{"datum":27},"y":{"datum":29.2}}},
   {"data":{"name":"one"},"mark":{"type":"point","shape":"circle","filled":false,"strokeWidth":2,"size":36,"opacity":1,"color":"#000000"},"encoding":{"x":{"datum":15},"y":{"datum":29.2}}},
   {"data":{"name":"one"},"mark":{"type":"text","text":"WT","fontSize":11,"align":"left","baseline":"middle"},"encoding":{"x":{"datum":41.3},"y":{"datum":29.2}}},
   {"data":{"name":"one"},"mark":{"type":"text","text":["r\u00b2 = 0.4944","***p = 0.0005"],"fontSize":11,"align":"left","baseline":"middle","lineHeight":12.3},"encoding":{"x":{"datum":8.9},"y":{"datum":26.47}}},
   {"data":{"name":"one"},"mark":{"type":"point","shape":"square","filled":false,"strokeWidth":2,"size":36,"opacity":1,"color":"#ff0000"},"encoding":{"x":{"datum":13.9},"y":{"datum":20.2}}},
   {"data":{"name":"one"},"mark":{"type":"text","text":"Casp3\u207b\u141f\u207b","fontSize":11,"align":"left","baseline":"middle"},"encoding":{"x":{"datum":41.3},"y":{"datum":20.2}}},
   {"data":{"name":"one"},"mark":{"type":"text","text":["r\u00b2 = 0.1330","p = 0.1246"],"fontSize":11,"align":"left","baseline":"middle","lineHeight":12.3},"encoding":{"x":{"datum":8.9},"y":{"datum":16.92}}},
   {"data":{"name":"one"},"mark":{"type":"text","text":"Male-Female (Session 1)","fontSize":12.5,"baseline":"middle"},"encoding":{"x":{"datum":174.6},"y":{"datum":34.15}}},
   {"data":{"name":"one"},"mark":{"type":"text","text":"G","fontSize":22,"align":"left","baseline":"alphabetic"},"encoding":{"x":{"datum":-77.4},"y":{"datum":33.58}}}
  ]}
 ]},
 {"bounds": "flush", "spacing": 72, "hconcat": [
  {"width": 274, "height": 159, "layer": [
   {"data":{"name":"H_pts"},"mark":{"type":"point","filled":false,"strokeWidth":2,"size":40,"opacity":1},"encoding":{"x":{"field":"loco1","type":"quantitative","scale":{"domain":[-23418,150000],"nice":false},"axis":{"values":[0,25000,50000,75000,100000,125000,150000],"domain":false,"format":"d","labelExpr":"datum.value % 50000 === 0 ? datum.label : ''","title":"Session 1: Locomotion (mm)","titlePadding":8,"titleX":155.5}},"y":{"field":"loco2","type":"quantitative","scale":{"domain":[0,200000],"nice":false},"axis":{"offset":-37,"values":[0,25000,50000,75000,100000,125000,150000,175000,200000],"format":"d","labelExpr":"datum.value % 50000 === 0 ? datum.label : ''","title":"Session 2: Locomotion (mm)"}},"shape":{"field":"group","type":"nominal","legend":null,"scale":{"domain":["WT male","Casp3 male"],"range":["circle","square"]}},"color":{"field":"group","type":"nominal","legend":null,"scale":{"domain":["WT male","Casp3 male","WT female","Casp3 female"],"range":["#000000","#ff0000","#999999","#a30000"]}}}},
   {"data":{"name":"one"},"mark":{"type":"rule","strokeWidth":2.5,"color":"#000000"},"encoding":{"x":{"datum":0},"x2":{"datum":150000},"y":{"datum":0}}},
   {"data":{"name":"H_fit"},"mark":{"type":"line","strokeWidth":2},"encoding":{"x":{"field":"loco1","type":"quantitative"},"y":{"field":"loco2","type":"quantitative"},"color":{"field":"group","type":"nominal","legend":null}}},
   {"data":{"name":"one"},"mark":{"type":"rule","strokeWidth":2,"color":"#000000"},"encoding":{"x":{"datum":1900},"x2":{"datum":15800},"y":{"datum":195350}}},
   {"data":{"name":"one"},"mark":{"type":"point","shape":"circle","filled":false,"strokeWidth":2,"size":36,"opacity":1,"color":"#000000"},"encoding":{"x":{"datum":8228},"y":{"datum":195350}}},
   {"data":{"name":"one"},"mark":{"type":"text","text":"WT","fontSize":11,"align":"left","baseline":"middle"},"encoding":{"x":{"datum":18987},"y":{"datum":195350}}},
   {"data":{"name":"one"},"mark":{"type":"text","text":["r\u00b2 = 0.2763","*p = 0.0173"],"fontSize":11,"align":"left","baseline":"middle","lineHeight":12.3},"encoding":{"x":{"datum":5253},"y":{"datum":177364}}},
   {"data":{"name":"one"},"mark":{"type":"rule","strokeWidth":2,"color":"#ff0000"},"encoding":{"x":{"datum":1900},"x2":{"datum":15800},"y":{"datum":135470}}},
   {"data":{"name":"one"},"mark":{"type":"point","shape":"square","filled":false,"strokeWidth":2,"size":40,"opacity":1,"color":"#ff0000"},"encoding":{"x":{"datum":8228},"y":{"datum":135470}}},
   {"data":{"name":"one"},"mark":{"type":"text","text":"Casp3\u207b\u141f\u207b","fontSize":11,"align":"left","baseline":"middle"},"encoding":{"x":{"datum":18987},"y":{"datum":135470}}},
   {"data":{"name":"one"},"mark":{"type":"text","text":["r\u00b2 = 0.2975","*p = 0.0157"],"fontSize":11,"align":"left","baseline":"middle","lineHeight":12.3},"encoding":{"x":{"datum":5253},"y":{"datum":113588}}},
   {"data":{"name":"one"},"mark":{"type":"text","text":"Male-Female (Session 1 vs 2)","fontSize":12.5,"baseline":"middle"},"encoding":{"x":{"datum":69620},"y":{"datum":228940}}},
   {"data":{"name":"one"},"mark":{"type":"text","text":"H","fontSize":22,"align":"left","baseline":"alphabetic"},"encoding":{"x":{"datum":-47468},"y":{"datum":225164}}}
  ]},
  {"width": 237, "height": 159, "layer": [
   {"data":{"name":"I_pts"},"mark":{"type":"point","filled":false,"strokeWidth":2,"size":38,"opacity":1},"encoding":{"x":{"field":"contact1","type":"quantitative","scale":{"domain":[0,350],"nice":false},"axis":{"values":[0,50,100,150,200,250,300,350],"labelExpr":"datum.value % 100 === 0 ? datum.label : ''","title":"Session 1: Time in contact (s)","titlePadding":8}},"y":{"field":"contact2","type":"quantitative","scale":{"domain":[0,350],"nice":false},"axis":{"values":[0,50,100,150,200,250,300,350],"labelExpr":"datum.value % 100 === 0 ? datum.label : ''","title":"Session 2: Time in contact (s)"}},"shape":{"field":"group","type":"nominal","legend":null,"scale":{"domain":["WT male","Casp3 male"],"range":["circle","square"]}},"color":{"field":"group","type":"nominal","legend":null,"scale":{"domain":["WT male","Casp3 male","WT female","Casp3 female"],"range":["#000000","#ff0000","#999999","#a30000"]}}}},
   {"data":{"name":"I_fit"},"mark":{"type":"line","strokeWidth":2},"encoding":{"x":{"field":"contact1","type":"quantitative"},"y":{"field":"contact2","type":"quantitative"},"color":{"field":"group","type":"nominal","legend":null}}},
   {"data":{"name":"one"},"mark":{"type":"rule","strokeWidth":2,"color":"#000000"},"encoding":{"x":{"datum":1.5},"x2":{"datum":33.5},"y":{"datum":341.8}}},
   {"data":{"name":"one"},"mark":{"type":"point","shape":"circle","filled":false,"strokeWidth":2,"size":36,"opacity":1,"color":"#000000"},"encoding":{"x":{"datum":19},"y":{"datum":341.8}}},
   {"data":{"name":"one"},"mark":{"type":"text","text":"WT","fontSize":11,"align":"left","baseline":"middle"},"encoding":{"x":{"datum":43.3},"y":{"datum":341.8}}},
   {"data":{"name":"one"},"mark":{"type":"text","text":["r\u00b2 = 0.4038","**p = 0.0026"],"fontSize":11,"align":"left","baseline":"middle","lineHeight":12.3},"encoding":{"x":{"datum":11.3},"y":{"datum":310.4}}},
   {"data":{"name":"one"},"mark":{"type":"point","shape":"square","filled":false,"strokeWidth":2,"size":36,"opacity":1,"color":"#ff0000"},"encoding":{"x":{"datum":16.2},"y":{"datum":237}}},
   {"data":{"name":"one"},"mark":{"type":"text","text":"Casp3\u207b\u141f\u207b","fontSize":11,"align":"left","baseline":"middle"},"encoding":{"x":{"datum":43.3},"y":{"datum":237}}},
   {"data":{"name":"one"},"mark":{"type":"text","text":["r\u00b2 = 0.0888","p = 0.2152"],"fontSize":11,"align":"left","baseline":"middle","lineHeight":12.3},"encoding":{"x":{"datum":11.3},"y":{"datum":198.8}}},
   {"data":{"name":"one"},"mark":{"type":"text","text":"Male-Female (Session 1 vs 2)","fontSize":12.5,"baseline":"middle"},"encoding":{"x":{"datum":175.3},"y":{"datum":400.6}}},
   {"data":{"name":"one"},"mark":{"type":"text","text":"I","fontSize":22,"align":"left","baseline":"alphabetic"},"encoding":{"x":{"datum":-84.2},"y":{"datum":394}}}
  ]}
 ]}
]
}
